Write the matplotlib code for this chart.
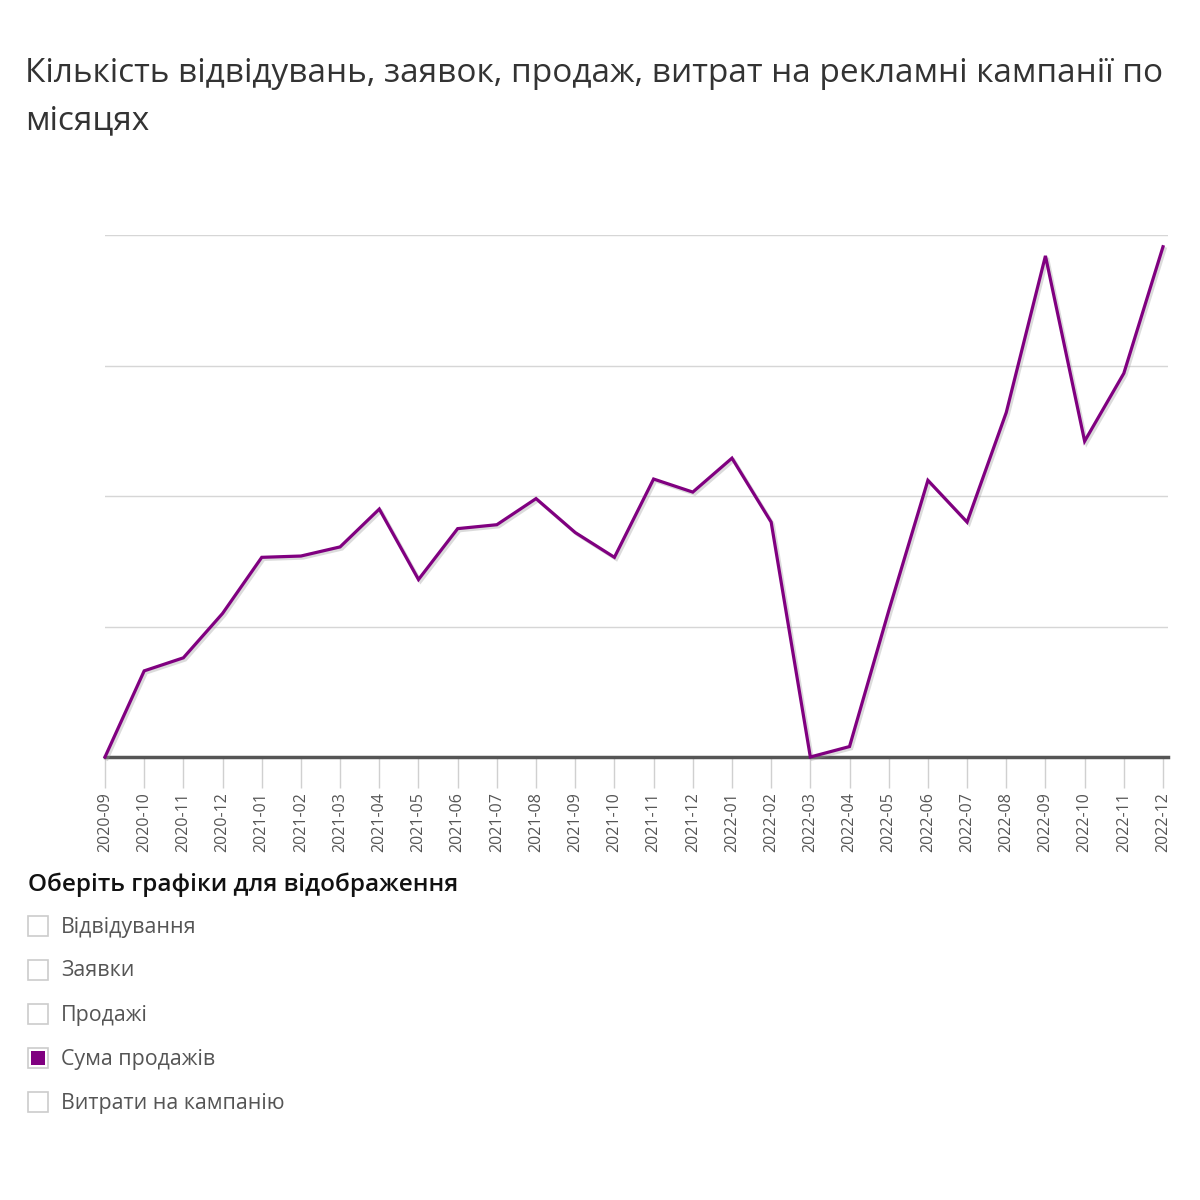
import matplotlib
matplotlib.use("Agg")
import matplotlib.pyplot as plt
import matplotlib.patheffects as pe
from matplotlib.patches import Rectangle

plt.rcParams['font.family'] = ['Open Sans', 'DejaVu Sans']

# Дані: сума продажів по місяцях (умовні одиниці, сітка через 100)
months = ['2020-09', '2020-10', '2020-11', '2020-12',
          '2021-01', '2021-02', '2021-03', '2021-04', '2021-05', '2021-06',
          '2021-07', '2021-08', '2021-09', '2021-10', '2021-11', '2021-12',
          '2022-01', '2022-02', '2022-03', '2022-04', '2022-05', '2022-06',
          '2022-07', '2022-08', '2022-09', '2022-10', '2022-11', '2022-12']
sales_sum = [0, 66, 76, 110, 153, 154, 161, 190, 136, 175,
             178, 198, 172, 153, 213, 203, 229, 180, 0, 8,
             112, 212, 180, 264, 384, 242, 294, 391]

title = "Кількість відвідувань, заявок, продаж, витрат на рекламні кампанії по\nмісяцях"
legend_title = "Оберіть графіки для відображення"
legend_items = ['Відвідування', 'Заявки', 'Продажі', 'Сума продажів', 'Витрати на кампанію']
legend_checked = [False, False, False, True, False]

purple = '#800080'

fig = plt.figure(figsize=(12, 12), dpi=100)
ax = fig.add_axes([105 / 1200, 1 - 757 / 1200, (1168 - 105) / 1200, (757 - 235) / 1200])

x = list(range(len(months)))
ax.plot(x, sales_sum, color=purple, lw=2.3, clip_on=False, zorder=3,
        solid_joinstyle='miter',
        path_effects=[pe.SimpleLineShadow(offset=(1.5, -1.5), shadow_color='#999999', alpha=0.35),
                      pe.Normal()])

ax.set_xlim(0, len(months) - 1 + 5 / 39.2)
ax.set_ylim(0, 400)
ax.set_yticks([100, 200, 300, 400])
ax.yaxis.grid(True, color='#d6d6d6', lw=1)
ax.set_axisbelow(True)
ax.tick_params(axis='y', left=False, labelleft=False)

ax.set_xticks(x)
ax.set_xticklabels(months, rotation=90, fontsize=11.5, color='#555555')
ax.tick_params(axis='x', length=22, width=1, color='#d0d0d0', pad=3)

for s in ['top', 'right', 'left']:
    ax.spines[s].set_visible(False)
ax.spines['bottom'].set_color('#555555')
ax.spines['bottom'].set_linewidth(2.5)
ax.spines['bottom'].set_zorder(2)

# Заголовок
fig.text(25 / 1200, 1 - 57 / 1200, title, fontsize=24, color='#333333',
         va='top', ha='left', linespacing=1.58)

# Блок вибору графіків
fig.text(28 / 1200, 1 - 885 / 1200, legend_title, fontsize=17.5, weight='semibold',
         color='#111111', va='center', ha='left')
for i, (label, checked) in enumerate(zip(legend_items, legend_checked)):
    yc = 926 + i * 44
    fig.patches.append(Rectangle((28 / 1200, 1 - (yc + 10) / 1200), 20 / 1200, 20 / 1200,
                                 transform=fig.transFigure, facecolor='white',
                                 edgecolor='#cccccc', lw=1.2))
    if checked:
        fig.patches.append(Rectangle((31 / 1200, 1 - (yc + 7) / 1200), 14 / 1200, 14 / 1200,
                                     transform=fig.transFigure, facecolor=purple,
                                     edgecolor='none'))
    fig.text(61 / 1200, 1 - (yc + 1) / 1200, label, fontsize=15.4, color='#555555',
             va='center', ha='left')

fig.savefig('out.png', dpi=100, facecolor='white')
